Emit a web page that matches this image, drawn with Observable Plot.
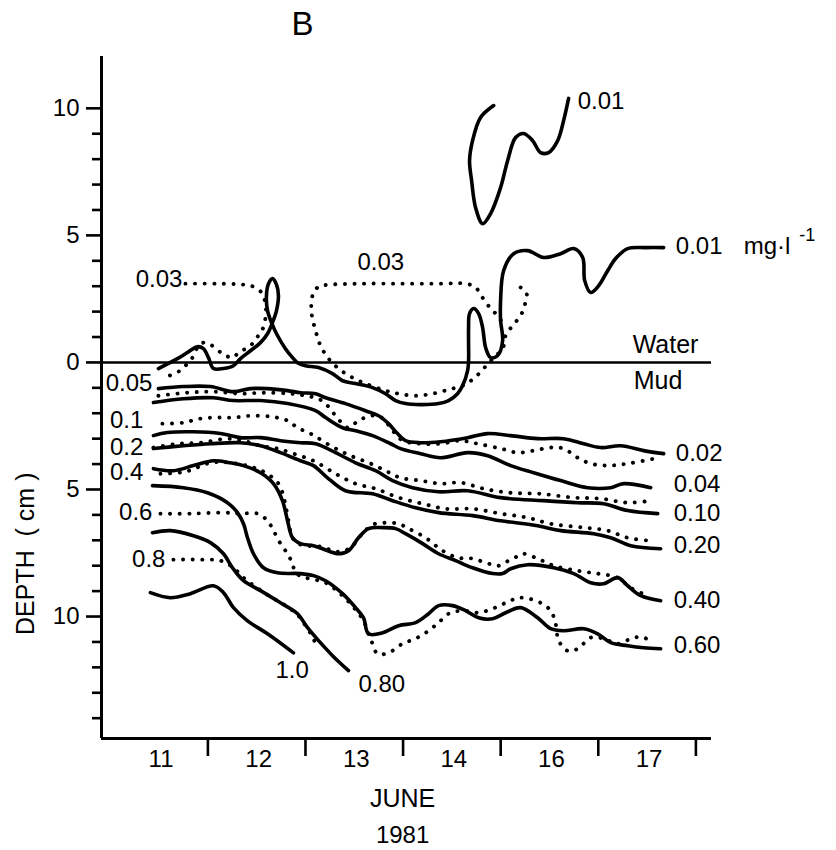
<!DOCTYPE html>
<html><head><meta charset="utf-8">
<script src="https://cdn.jsdelivr.net/npm/d3@7"></script>
<script src="https://cdn.jsdelivr.net/npm/@observablehq/plot@0.6"></script>
<style>body{margin:0;background:#fff}</style>
</head><body><div id="chart"></div>
<script>
// x: day index on the (broken) June 1981 axis, 0 = start of 11 June; y: cm (+ above mud surface, - depth)
const dayLabels = ["11", "12", "13", "14", "16", "17"];
const dayBoundaries = [1, 2, 3, 4, 5, 6];
const majorTicks = [10, 5, 0, -5, -10];
const minorTicks = [9, 8, 7, 6, 4, 3, 2, 1, -1, -2, -3, -4, -6, -7, -8, -9, -11, -12, -13, -14];

// solid 0.01 mg/l isoline (above & below water)
const sol001 = [[0.493,-0.24],[0.688,0.15],[0.790,0.39],[0.893,0.62],[0.954,0.54],[1.006,0.19],[1.057,-0.24],[1.160,-0.24],[1.262,-0.13],[1.334,0.15],[1.436,0.46],[1.539,0.78],[1.611,1.13],[1.662,1.57],[1.703,2.04],[1.723,2.63],[1.703,3.06],[1.662,3.30],[1.621,3.10],[1.600,2.63],[1.611,2.04],[1.652,1.57],[1.713,1.06],[1.795,0.54],[1.867,0.19],[1.918,-0.01],[2.000,-0.13],[2.134,-0.20],[2.277,-0.44],[2.380,-0.72],[2.513,-0.83],[2.687,-0.99],[2.820,-1.23],[2.923,-1.50],[3.025,-1.62],[3.179,-1.66],[3.364,-1.62],[3.466,-1.50],[3.558,-1.23],[3.610,-0.91],[3.661,-0.32],[3.671,0.07],[3.671,0.74],[3.671,1.37],[3.681,1.92],[3.723,2.12],[3.774,1.92],[3.815,1.37],[3.846,0.58],[3.897,0.19],[3.969,0.27],[4.020,0.86],[3.999,1.65],[3.999,2.43],[4.030,3.61],[4.133,4.28],[4.276,4.40],[4.440,4.13],[4.614,4.28],[4.748,4.48],[4.840,4.13],[4.861,3.22],[4.922,2.75],[5.004,3.02],[5.096,3.61],[5.178,4.09],[5.301,4.48],[5.486,4.52],[5.670,4.52]];
const sol001top = [[3.928,10.11],[3.794,9.64],[3.712,8.73],[3.681,7.94],[3.702,7.16],[3.743,6.09],[3.815,5.46],[3.897,5.86],[3.999,6.88],[4.071,7.94],[4.153,8.85],[4.235,9.01],[4.327,8.73],[4.409,8.26],[4.491,8.26],[4.584,8.73],[4.645,9.52],[4.696,10.39]];
// dotted 0.03 isolines
const dot003a = [[0.770,3.10],[1.077,3.10],[1.365,3.06],[1.467,2.98],[1.549,2.75],[1.590,2.31],[1.590,1.76],[1.559,1.29],[1.518,1.06],[1.467,0.78],[1.406,0.58],[1.313,0.39],[1.262,0.19],[1.180,0.27],[1.108,0.46],[1.026,0.70],[0.954,0.78],[0.893,0.58],[0.842,0.19],[0.770,-0.13],[0.688,-0.39],[0.596,-0.52],[0.534,-0.44]];
const dot003b = [[4.204,2.95],[4.266,2.71],[4.245,2.24],[4.204,1.84],[4.122,1.45],[4.051,1.06],[4.020,0.54],[3.928,0.19],[3.825,-0.24],[3.723,-0.64],[3.610,-0.91],[3.466,-1.07],[3.302,-1.23],[3.128,-1.31],[2.954,-1.23],[2.820,-1.11],[2.615,-0.83],[2.482,-0.60],[2.339,-0.24],[2.236,0.15],[2.154,0.66],[2.103,1.25],[2.062,1.96],[2.072,2.63],[2.134,2.98],[2.257,3.06],[2.564,3.10],[2.974,3.10],[3.384,3.10],[3.640,3.10],[3.743,2.95],[3.815,2.55],[3.897,2.12],[3.969,1.84],[4.030,1.49]];
// sediment isolines, solid
const sol002 = [[0.493,-1.03],[0.749,-0.95],[1.026,-0.95],[1.262,-1.15],[1.436,-1.03],[1.611,-1.03],[1.816,-1.11],[1.949,-1.19],[2.103,-1.23],[2.206,-1.39],[2.410,-1.62],[2.615,-1.90],[2.749,-2.10],[2.851,-2.41],[2.943,-2.80],[3.025,-3.08],[3.179,-3.16],[3.384,-3.12],[3.661,-2.96],[3.866,-2.80],[4.102,-2.88],[4.379,-3.00],[4.645,-3.00],[4.850,-3.20],[5.025,-3.35],[5.229,-3.28],[5.465,-3.47],[5.670,-3.59]];
const sol004 = [[0.442,-1.58],[0.749,-1.43],[1.057,-1.39],[1.262,-1.50],[1.539,-1.50],[1.816,-1.62],[2.103,-1.90],[2.206,-2.17],[2.380,-2.57],[2.513,-2.69],[2.687,-2.88],[2.872,-3.20],[2.974,-3.39],[3.179,-3.59],[3.384,-3.75],[3.661,-3.55],[3.866,-3.67],[4.102,-4.06],[4.338,-4.34],[4.614,-4.65],[4.891,-4.93],[5.127,-4.93],[5.260,-4.77],[5.537,-4.93]];
const sol010 = [[0.442,-2.88],[0.585,-2.76],[0.852,-2.73],[1.129,-2.80],[1.334,-2.96],[1.539,-2.96],[1.744,-3.08],[1.949,-3.16],[2.103,-3.20],[2.308,-3.55],[2.513,-3.95],[2.718,-4.26],[2.892,-4.65],[3.097,-4.93],[3.364,-5.09],[3.661,-5.05],[3.999,-5.32],[4.440,-5.44],[4.789,-5.52],[5.055,-5.56],[5.301,-5.83],[5.609,-5.95]];
const sol020 = [[0.442,-3.39],[0.749,-3.28],[1.026,-3.20],[1.334,-3.16],[1.539,-3.28],[1.744,-3.55],[1.949,-3.87],[2.082,-4.06],[2.226,-4.54],[2.410,-5.05],[2.687,-5.17],[2.892,-5.44],[3.128,-5.72],[3.364,-5.91],[3.712,-6.03],[3.999,-6.23],[4.379,-6.43],[4.614,-6.62],[4.953,-6.74],[5.127,-6.90],[5.332,-7.21],[5.639,-7.33]];
const sol040 = [[0.442,-4.18],[0.647,-4.26],[0.852,-4.06],[1.057,-3.87],[1.231,-3.95],[1.365,-4.06],[1.539,-4.34],[1.672,-4.77],[1.764,-5.44],[1.816,-6.23],[1.867,-6.90],[1.949,-7.13],[2.082,-7.21],[2.175,-7.33],[2.339,-7.53],[2.441,-7.41],[2.543,-6.90],[2.646,-6.54],[2.790,-6.50],[2.923,-6.54],[3.025,-6.74],[3.200,-7.13],[3.364,-7.53],[3.538,-7.80],[3.712,-8.08],[3.917,-8.31],[4.020,-8.31],[4.102,-8.12],[4.276,-7.96],[4.543,-8.08],[4.748,-8.31],[4.922,-8.67],[5.055,-8.71],[5.199,-8.47],[5.301,-8.79],[5.435,-9.18],[5.639,-9.38]];
const sol060 = [[0.432,-4.85],[0.749,-4.93],[0.995,-5.13],[1.201,-5.52],[1.303,-5.91],[1.365,-6.35],[1.406,-6.90],[1.467,-7.53],[1.570,-8.08],[1.713,-8.28],[1.949,-8.31],[2.082,-8.39],[2.206,-8.59],[2.380,-9.10],[2.513,-9.65],[2.595,-10.05],[2.646,-10.68],[2.790,-10.64],[2.954,-10.36],[3.128,-10.24],[3.261,-9.89],[3.364,-9.57],[3.507,-9.57],[3.640,-9.77],[3.774,-10.05],[3.917,-10.09],[4.051,-9.85],[4.204,-9.65],[4.379,-10.05],[4.512,-10.48],[4.645,-10.56],[4.850,-10.48],[4.994,-10.68],[5.127,-11.03],[5.301,-11.15],[5.465,-11.23],[5.639,-11.27]];
const sol080 = [[0.432,-6.70],[0.616,-6.62],[0.852,-6.82],[1.026,-7.09],[1.160,-7.53],[1.252,-8.08],[1.365,-8.59],[1.539,-8.98],[1.744,-9.46],[1.918,-9.89],[2.021,-10.44],[2.134,-10.95],[2.277,-11.54],[2.441,-12.13]];
const sol100 = [[0.411,-9.06],[0.616,-9.26],[0.821,-9.10],[1.057,-8.79],[1.160,-9.06],[1.262,-9.65],[1.406,-10.17],[1.611,-10.68],[1.877,-11.43]];
// sediment isolines, dotted
const dot005 = [[0.493,-1.31],[0.790,-1.19],[1.057,-1.15],[1.334,-1.23],[1.590,-1.19],[1.846,-1.23],[2.000,-1.31],[2.134,-1.43],[2.226,-1.70],[2.308,-2.10],[2.380,-2.41],[2.441,-2.57],[2.543,-2.29],[2.667,-2.10],[2.738,-2.10],[2.820,-2.29],[2.872,-2.61],[2.923,-2.80],[2.995,-3.08],[3.179,-3.20],[3.384,-3.20],[3.589,-3.08],[3.764,-3.20],[3.999,-3.39],[4.174,-3.55],[4.338,-3.47],[4.512,-3.35],[4.645,-3.39],[4.789,-3.75],[4.922,-3.98],[5.096,-4.06],[5.301,-3.98],[5.568,-3.79]];
const dot01 = [[0.534,-2.41],[0.749,-2.37],[0.924,-2.21],[1.098,-2.17],[1.262,-2.17],[1.436,-2.10],[1.642,-2.13],[1.816,-2.29],[1.918,-2.57],[2.051,-2.80],[2.257,-3.28],[2.461,-3.67],[2.667,-3.98],[2.820,-4.26],[2.974,-4.54],[3.179,-4.65],[3.384,-4.77],[3.589,-4.73],[3.825,-4.97],[4.102,-5.13],[4.409,-5.17],[4.748,-5.32],[5.025,-5.36],[5.301,-5.52],[5.537,-5.44]];
const dot02 = [[0.442,-3.35],[0.688,-3.20],[0.924,-3.16],[1.201,-3.00],[1.365,-3.08],[1.539,-3.28],[1.713,-3.39],[1.877,-3.59],[2.082,-3.87],[2.308,-4.38],[2.513,-4.77],[2.718,-4.97],[2.954,-5.32],[3.200,-5.56],[3.435,-5.76],[3.712,-5.76],[3.999,-5.95],[4.276,-6.11],[4.512,-6.35],[4.850,-6.50],[5.096,-6.62],[5.301,-6.90],[5.537,-7.02]];
const dot04 = [[0.514,-4.38],[0.770,-4.30],[1.026,-3.95],[1.231,-3.95],[1.436,-4.10],[1.590,-4.34],[1.723,-4.77],[1.785,-5.44],[1.826,-6.23],[1.867,-6.90],[1.949,-7.17],[2.154,-7.25],[2.339,-7.45],[2.461,-7.29],[2.564,-6.82],[2.687,-6.39],[2.820,-6.31],[2.954,-6.35],[3.056,-6.54],[3.231,-6.90],[3.404,-7.41],[3.569,-7.69],[3.712,-7.72],[3.876,-7.92],[3.979,-8.00],[4.081,-7.80],[4.184,-7.61],[4.235,-7.53],[4.379,-7.72],[4.543,-8.00],[4.789,-8.20],[4.994,-8.31],[5.199,-8.47],[5.332,-8.87],[5.506,-9.18]];
const dot06 = [[0.514,-5.95],[0.821,-5.95],[1.160,-5.91],[1.334,-5.95],[1.508,-5.95],[1.611,-6.23],[1.672,-6.62],[1.744,-7.13],[1.816,-7.53],[1.867,-7.92],[1.898,-8.28],[2.000,-8.47],[2.206,-8.67],[2.380,-9.18],[2.513,-9.73],[2.595,-10.17],[2.646,-10.68],[2.687,-11.07],[2.738,-11.47],[2.851,-11.43],[2.995,-11.07],[3.128,-10.87],[3.261,-10.56],[3.364,-10.24],[3.466,-9.89],[3.610,-9.77],[3.774,-9.85],[3.917,-9.69],[4.051,-9.46],[4.153,-9.30],[4.235,-9.26],[4.409,-9.46],[4.512,-9.77],[4.563,-10.28],[4.594,-10.95],[4.686,-11.35],[4.789,-11.27],[4.922,-10.83],[5.055,-10.87],[5.199,-11.07],[5.363,-10.83],[5.465,-10.83],[5.568,-11.03]];
const dot08 = [[0.647,-7.76],[0.924,-7.76],[1.129,-7.80],[1.262,-8.08],[1.365,-8.47],[1.488,-8.83],[1.642,-9.22],[1.795,-9.57],[1.918,-9.93],[2.000,-10.36],[2.082,-10.87],[2.113,-11.27]];

const solidSeries = {sol001, sol001top, sol002, sol004, sol010, sol020, sol040, sol060, sol080, sol100};
const dottedSeries = {dot003a, dot003b, dot005, dot01, dot02, dot04, dot06, dot08};
const toRows = (obj) => Object.entries(obj).flatMap(([id, pts]) => pts.map(([t, y]) => ({id, t, y})));
const solidRows = toRows(solidSeries);
const dottedRows = toRows(dottedSeries);

// isoline labels
const labelsEnd = [
  {text: "0.03", t: 0.739, y: 3.26},
  {text: "0.05", t: 0.432, y: -0.83},
  {text: "0.1", t: 0.339, y: -2.29},
  {text: "0.2", t: 0.339, y: -3.35},
  {text: "0.4", t: 0.339, y: -4.34},
  {text: "0.6", t: 0.432, y: -5.91},
  {text: "0.8", t: 0.565, y: -7.76}
];
const labelsStart = [
  {text: "0.03", t: 2.533, y: 3.93},
  {text: "0.01", t: 4.789, y: 10.27},
  {text: "0.01", t: 5.794, y: 4.56},
  {text: "mg·l", t: 6.49, y: 4.56},
  {text: "1.0", t: 1.693, y: -12.13},
  {text: "0.80", t: 2.543, y: -12.65},
  {text: "0.02", t: 5.794, y: -3.59},
  {text: "0.04", t: 5.773, y: -4.81},
  {text: "0.10", t: 5.773, y: -5.95},
  {text: "0.20", t: 5.773, y: -7.21},
  {text: "0.40", t: 5.773, y: -9.38},
  {text: "0.60", t: 5.773, y: -11.15}
];
const surfaceLabels = [
  {text: "Water", t: 5.352, y: 0.70},
  {text: "Mud", t: 5.363, y: -0.72}
];

const FONT = "Liberation Sans, Arial, Helvetica, sans-serif";
const xMin = -0.09, yMin = -14.8;
const NB = "\u00a0";

const chart = Plot.plot({
  width: 836, height: 850,
  marginLeft: 101, marginRight: 125, marginTop: 56, marginBottom: 112,
  style: {fontFamily: FONT, fontSize: "24px", color: "#000", background: "#fff"},
  x: {domain: [xMin, 6.16]},
  y: {domain: [yMin, 12.04]},
  marks: [
    // axes
    Plot.ruleX([xMin], {stroke: "#000", strokeWidth: 3}),
    Plot.ruleY([yMin], {stroke: "#000", strokeWidth: 3}),
    Plot.axisY({ticks: majorTicks, tickSize: 15, tickPadding: 7, tickFormat: d => String(Math.abs(d)), fontSize: 24, strokeWidth: 2.6, label: null}),
    Plot.axisY({ticks: minorTicks, tickSize: 9, tickFormat: () => "", strokeWidth: 2.6, label: null}),
    Plot.axisX({ticks: dayBoundaries, tickSize: 18, tickFormat: () => "", strokeWidth: 2.6, label: null}),
    Plot.text(dayLabels, {x: (d, i) => i + 0.52, text: d => d, frameAnchor: "bottom", lineAnchor: "middle", dy: 21, fontSize: 24}),
    Plot.text(["JUNE"], {x: [2.995], text: d => d, frameAnchor: "bottom", lineAnchor: "middle", dy: 60, fontSize: 25, letterSpacing: 1}),
    Plot.text(["1981"], {x: [2.995], text: d => d, frameAnchor: "bottom", lineAnchor: "middle", dy: 97, fontSize: 24, letterSpacing: 1}),
    Plot.text(["B"], {x: [1.97], text: d => d, frameAnchor: "top", lineAnchor: "middle", dy: -32, fontSize: 33}),
    Plot.text([`DEPTH${NB}${NB}(${NB}cm${NB})`], {y: [-7.53], text: d => d, frameAnchor: "left", textAnchor: "middle", lineAnchor: "middle", dx: -76, rotate: -90, fontSize: 25, letterSpacing: 1.5}),
    // water / mud surface
    Plot.ruleY([0], {stroke: "#000", strokeWidth: 2.4}),
    // isolines
    Plot.line(solidRows, {x: "t", y: "y", z: "id", curve: "catmull-rom", stroke: "#000", strokeWidth: 3.6, strokeLinejoin: "round", strokeLinecap: "round"}),
    Plot.line(dottedRows, {x: "t", y: "y", z: "id", curve: "catmull-rom", stroke: "#000", strokeWidth: 3.9, strokeDasharray: "0.1 9.5", strokeLinecap: "round"}),
    // labels
    Plot.text(labelsEnd, {x: "t", y: "y", text: "text", textAnchor: "end", fontSize: 24, letterSpacing: 1}),
    Plot.text(labelsStart, {x: "t", y: "y", text: "text", textAnchor: "start", fontSize: 24, letterSpacing: 1.5}),
    Plot.text(surfaceLabels.slice(0, 1), {x: "t", y: "y", text: "text", textAnchor: "start", fontSize: 25, letterSpacing: 3}),
    Plot.text(surfaceLabels.slice(1), {x: "t", y: "y", text: "text", textAnchor: "start", fontSize: 25, letterSpacing: 2}),
    Plot.text(["-1"], {x: [7.06], y: [4.99], text: d => d, textAnchor: "start", fontSize: 18})
  ]
});
document.getElementById("chart").appendChild(chart);
</script>
</body></html>
